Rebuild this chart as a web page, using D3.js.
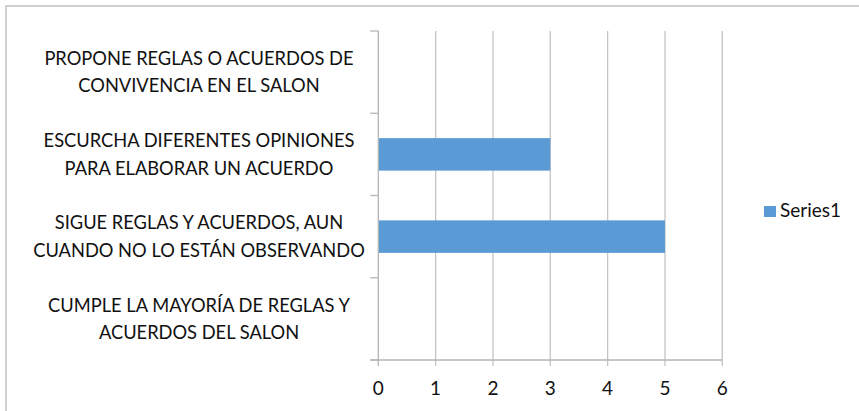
<!DOCTYPE html>
<html>
<head>
<meta charset="utf-8">
<script src="https://cdn.jsdelivr.net/npm/d3@7"></script>
<style>
  body { margin: 0; background: #fff; }
  text { font-family: Lato, "Open Sans", sans-serif; fill: #111; }
</style>
</head>
<body>
<svg id="chart" width="859" height="411"></svg>
<script>
// categories top to bottom, lines as wrapped in the original
var categories = [
  "PROPONE REGLAS O ACUERDOS DE\nCONVIVENCIA EN EL SALON",
  "ESCURCHA DIFERENTES OPINIONES\nPARA ELABORAR UN ACUERDO",
  "SIGUE REGLAS Y ACUERDOS, AUN\nCUANDO NO LO ESTÁN OBSERVANDO",
  "CUMPLE LA MAYORÍA DE REGLAS Y\nACUERDOS DEL SALON"
];
var series1 = [0, 3, 5, 0];
var xTicks = [0, 1, 2, 3, 4, 5, 6];
var seriesName = "Series1";

var svg = d3.select("#chart");
var plot = {left: 378.3, right: 722.3, top: 31, bottom: 360};

// chart frame (only top and left edges show in the picture)
svg.append("rect")
    .attr("x", 6).attr("y", 6)
    .attr("width", 900).attr("height", 500)
    .attr("fill", "none")
    .attr("stroke", "#d0d0d0")
    .attr("stroke-width", 2);

var x = d3.scaleLinear().domain([0, 6]).range([plot.left, plot.right]);
var y = d3.scaleBand().domain(categories).range([plot.top, plot.bottom]).padding(0);
var barRatio = 0.395;

var g = svg.append("g");

// vertical gridlines
g.selectAll("line.grid")
  .data(xTicks.slice(1))
  .enter().append("line")
    .attr("class", "grid")
    .attr("x1", function(d) { return x(d); })
    .attr("x2", function(d) { return x(d); })
    .attr("y1", plot.top)
    .attr("y2", plot.bottom + 6)
    .attr("stroke", "#c4c4c4")
    .attr("stroke-width", 1.3);

// bars
g.selectAll("rect.bar")
  .data(series1)
  .enter().append("rect")
    .attr("class", "bar")
    .attr("x", x(0))
    .attr("y", function(d, i) { return y(categories[i]) + y.bandwidth() * (1 - barRatio) / 2; })
    .attr("width", function(d) { return x(d) - x(0); })
    .attr("height", y.bandwidth() * barRatio)
    .attr("fill", "#5b9bd5");

// category axis line + ticks at band boundaries
var bounds = categories.map(function(c) { return y(c); }).concat([plot.bottom]);
g.append("line")
    .attr("x1", x(0)).attr("x2", x(0))
    .attr("y1", plot.top).attr("y2", plot.bottom + 6)
    .attr("stroke", "#b5b5b5").attr("stroke-width", 1.3);
g.selectAll("line.ctick")
  .data(bounds)
  .enter().append("line")
    .attr("class", "ctick")
    .attr("x1", x(0) - 8).attr("x2", x(0))
    .attr("y1", function(d) { return d; })
    .attr("y2", function(d) { return d; })
    .attr("stroke", "#b5b5b5").attr("stroke-width", 1.3);

// value axis line
g.append("line")
    .attr("x1", x(0) - 8).attr("x2", x(6))
    .attr("y1", plot.bottom).attr("y2", plot.bottom)
    .attr("stroke", "#b5b5b5").attr("stroke-width", 1.3);

// value tick labels
g.selectAll("text.xt")
  .data(xTicks)
  .enter().append("text")
    .attr("class", "xt")
    .attr("x", function(d) { return x(d); })
    .attr("y", 395)
    .attr("text-anchor", "middle")
    .style("font-size", "19px")
    .text(function(d) { return d; });

// category labels, centered on each band
var lineH = 27.5;
categories.forEach(function(c) {
  var lines = c.split("\n");
  var cy = y(c) + y.bandwidth() / 2;
  var t = g.append("text")
      .attr("text-anchor", "middle")
      .style("font-size", "18.3px");
  lines.forEach(function(l, i) {
    t.append("tspan")
        .attr("x", 199)
        .attr("y", cy + (i - (lines.length - 1) / 2) * lineH)
        .attr("dy", "0.36em")
        .text(l);
  });
});

// legend
var leg = svg.append("g").attr("transform", "translate(764,206)");
leg.append("rect")
    .attr("width", 12).attr("height", 11)
    .attr("fill", "#5b9bd5");
leg.append("text")
    .attr("x", 16).attr("y", 11)
    .style("font-size", "19px")
    .text(seriesName);
</script>
</body>
</html>
